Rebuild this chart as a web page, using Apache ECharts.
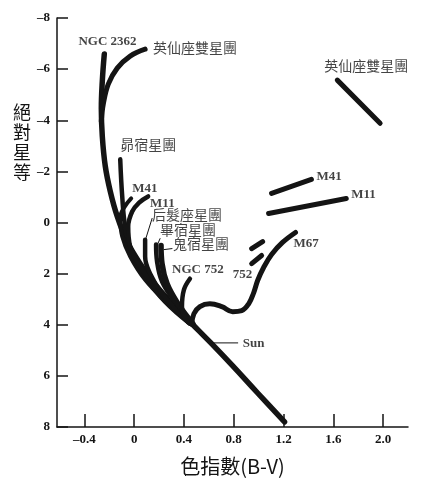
<!DOCTYPE html>
<html>
<head>
<meta charset="utf-8">
<script src="https://cdn.jsdelivr.net/npm/echarts@6/dist/echarts.min.js"></script>
<style>
  html, body { margin: 0; padding: 0; background: #fff; }
  #chart { width: 441px; height: 488px; }
</style>
</head>
<body>
<div id="chart"></div>
<script>
// tick labels
const xTicks = [-0.4, 0, 0.4, 0.8, 1.2, 1.6, 2.0];

// main sequence: NGC 2362 down through the Sun to the lower end
const zams = [[-0.24, -6.59], [-0.256, -5.53], [-0.264, -4.47], [-0.256, -3.37], [-0.232, -2.2],
  [-0.192, -1.22], [-0.136, -0.24], [-0.056, 0.75], [0.048, 1.61], [0.184, 2.51], [0.328, 3.29],
  [0.464, 3.96], [0.624, 4.75], [0.792, 5.61], [0.992, 6.67], [1.208, 7.8]];
// h & chi Persei (英仙座雙星團)
const hxPer = [[0.088, -6.78], [-0.032, -6.51], [-0.136, -6.04], [-0.208, -5.41], [-0.248, -4.63], [-0.264, -3.96]];
const hxPerGiants = [[1.632, -5.57], [1.976, -3.88]];
// Pleiades (昴宿星團)
const pleiades = [[-0.112, -2.47], [-0.096, -1.02], [-0.072, 0.16], [-0.016, 1.22], [0.088, 2.12], [0.248, 3.1], [0.448, 3.96]];
const m41 = [[-0.024, -0.94], [-0.08, -0.59], [-0.112, -0.2], [-0.096, 0.55], [-0.032, 1.33], [0.088, 2.24], [0.272, 3.18], [0.448, 3.96]];
const m41Giants = [[1.104, -1.14], [1.424, -1.69]];
const m11 = [[0.112, -1.02], [0.04, -0.78], [-0.016, -0.43], [-0.048, 0.16], [-0.032, 0.94], [0.048, 1.73], [0.168, 2.51], [0.328, 3.29], [0.464, 3.96]];
const m11Giants = [[1.08, -0.35], [1.704, -0.94]];
// Coma (后髮座星團), Hyades (畢宿星團), Praesepe (鬼宿星團)
const coma = [[0.088, 0.67], [0.088, 1.33], [0.128, 2.0], [0.224, 2.78], [0.368, 3.57], [0.464, 3.96]];
const hyades = [[0.176, 0.86], [0.184, 1.53], [0.224, 2.31], [0.328, 3.1], [0.464, 3.96]];
const praesepe = [[0.216, 0.9], [0.224, 1.61], [0.264, 2.39], [0.352, 3.18], [0.472, 3.96]];
const ngc752 = [[0.448, 2.2], [0.4, 2.63], [0.384, 3.29], [0.416, 3.8], [0.464, 4.0]];
const ngc752GiantsA = [[0.944, 1.02], [1.032, 0.75]];
const ngc752GiantsB = [[0.944, 1.61], [1.024, 1.29]];
const m67 = [[0.464, 3.96], [0.48, 3.57], [0.528, 3.29], [0.608, 3.18], [0.704, 3.29], [0.792, 3.49],
  [0.864, 3.45], [0.92, 3.18], [0.96, 2.75], [0.992, 2.27], [1.04, 1.76], [1.104, 1.25], [1.192, 0.78], [1.296, 0.39]];

// thin leader lines to labels
const sunPointer = [[0.624, 4.71], [0.832, 4.71]];
const comaPointer = [[0.144, -0.16], [0.096, 0.59]];
const hyadesPointer = [[0.208, 0.63], [0.184, 0.9]];
const praesepePointer = [[0.304, 1.02], [0.24, 1.06]];

// labels [x, y, text]
const latinLabels = [
  [-0.448, -7.06, 'NGC 2362'], [-0.016, -1.33, 'M41'], [0.128, -0.75, 'M11'],
  [0.304, 1.84, 'NGC 752'], [0.792, 2.04, '752'], [0.872, 4.75, 'Sun'],
  [1.464, -1.8, 'M41'], [1.744, -1.1, 'M11'], [1.28, 0.82, 'M67']
];
const cjkLabels = [
  [0.152, -6.82, '英仙座雙星團'], [1.528, -6.12, '英仙座雙星團'], [-0.112, -3.06, '昴宿星團'],
  [0.144, -0.31, '后髮座星團'], [0.208, 0.27, '畢宿星團'], [0.312, 0.82, '鬼宿星團']
];

const ink = '#141414';
const serif = '"Liberation Serif", "DejaVu Serif", serif';
const cjk = '"Noto Sans CJK TC", "Noto Sans CJK SC", sans-serif';

function curve(data, width, smooth) {
  return {
    type: 'line',
    data: data,
    smooth: smooth === undefined ? 0.4 : smooth,
    symbol: 'none',
    silent: true,
    lineStyle: { color: ink, width: width, cap: 'round', join: 'round' }
  };
}

function labelSeries(list, font, size, weight) {
  return {
    type: 'scatter',
    symbolSize: 0,
    silent: true,
    data: list.map(d => ({ value: [d[0], d[1]], name: d[2] })),
    label: {
      show: true,
      position: 'right',
      distance: 0,
      formatter: p => p.name,
      color: ink,
      fontFamily: font,
      fontSize: size,
      fontWeight: weight
    }
  };
}

const chart = echarts.init(document.getElementById('chart'));
chart.setOption({
  animation: false,
  backgroundColor: '#fff',
  grid: { left: 57, right: 33, top: 18, bottom: 61 },
  xAxis: {
    type: 'value',
    min: -0.62,
    max: 2.2,
    name: '色指數(B-V)',
    nameLocation: 'middle',
    nameGap: 29,
    nameTextStyle: { color: ink, fontSize: 20, fontFamily: cjk },
    axisLine: { onZero: false, lineStyle: { color: ink, width: 1.5 } },
    axisTick: { inside: true, length: 13, customValues: xTicks, lineStyle: { color: ink, width: 1.5 } },
    axisLabel: {
      customValues: xTicks,
      margin: 6,
      color: ink,
      fontFamily: serif,
      fontSize: 13,
      fontWeight: 'bold',
      formatter: v => (v < 0 ? '–' + Math.abs(v) : (v === 2 ? '2.0' : String(v)))
    },
    splitLine: { show: false }
  },
  yAxis: {
    type: 'value',
    inverse: true,
    min: -8,
    max: 8,
    interval: 2,
    axisLine: { onZero: false, lineStyle: { color: ink, width: 1.5 } },
    axisTick: { inside: true, length: 11, lineStyle: { color: ink, width: 1.5 } },
    axisLabel: {
      margin: 7,
      color: ink,
      fontFamily: serif,
      fontSize: 13,
      fontWeight: 'bold',
      formatter: v => (v < 0 ? '–' + Math.abs(v) : String(v))
    },
    splitLine: { show: false }
  },
  graphic: [{
    type: 'text',
    left: 13,
    top: 102,
    style: {
      text: '絕\n對\n星\n等',
      fill: ink,
      font: '18px ' + cjk,
      lineHeight: 20
    }
  }],
  series: [
    curve(zams, 5.5),
    curve(hxPer, 5),
    curve(hxPerGiants, 5, false),
    curve(pleiades, 4.5),
    curve(m41, 4),
    curve(m41Giants, 5, false),
    curve(m11, 4.5),
    curve(m11Giants, 5, false),
    curve(coma, 4.5),
    curve(hyades, 4.5),
    curve(praesepe, 5.5),
    curve(ngc752, 4.5),
    curve(ngc752GiantsA, 5, false),
    curve(ngc752GiantsB, 5, false),
    curve(m67, 5),
    curve(sunPointer, 1, false),
    curve(comaPointer, 1, false),
    curve(hyadesPointer, 1, false),
    curve(praesepePointer, 1, false),
    labelSeries(latinLabels, serif, 13, 'bold'),
    labelSeries(cjkLabels, cjk, 14, 'normal')
  ]
});
</script>
</body>
</html>
